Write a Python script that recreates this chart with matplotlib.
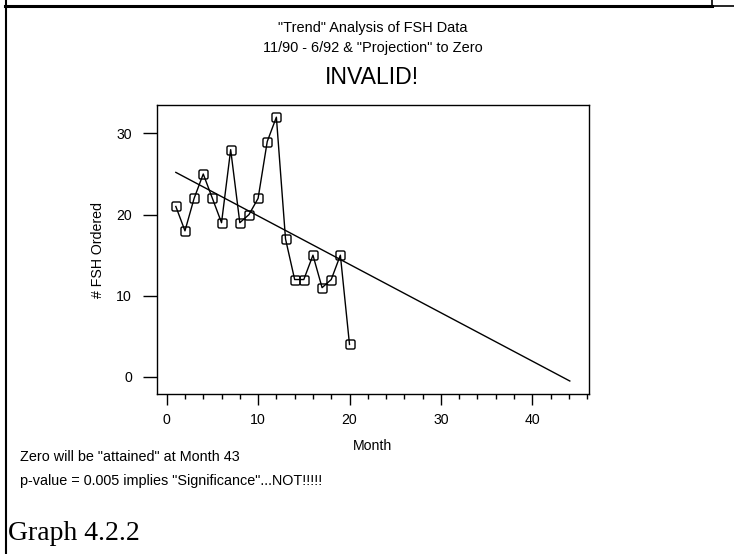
import matplotlib
matplotlib.use('Agg')
import matplotlib.pyplot as plt
from matplotlib import font_manager
from matplotlib.lines import Line2D
from matplotlib.path import Path
from matplotlib.ticker import MultipleLocator

# The scan uses a narrow Arial-like face; use Liberation Sans Narrow if present
names = {f.name for f in font_manager.fontManager.ttflist}
if 'Liberation Sans Narrow' in names:
    sans = 'Liberation Sans Narrow'
    k = 1.0
else:
    sans = 'Liberation Sans'
    k = 0.85
plt.rcParams['font.family'] = [sans, 'DejaVu Sans']

# Values
month = [1, 2, 3, 4, 5, 6, 7, 8, 9, 10, 11, 12, 13, 14, 15, 16, 17, 18, 19, 20]
fsh_ordered = [21, 18, 22, 25, 22, 19, 28, 19, 20, 22, 29, 32, 17, 12, 12, 15, 11, 12, 15, 4]

# Fitted "trend" line as drawn (start and end)
trend_month = [1, 44.1]
trend_value = [25.2, -0.5]

x_ticks = [0, 10, 20, 30, 40]
y_ticks = [0, 10, 20, 30]

W, H = 734, 554
fig = plt.figure(figsize=(W / 100, H / 100), dpi=100)


def fx(px):
    return px / W


def fy(py):
    return 1 - py / H


# rounded square marker
r = 0.35
verts = [(-1 + r, -1), (1 - r, -1), (1, -1), (1, -1 + r), (1, 1 - r), (1, 1),
         (1 - r, 1), (-1 + r, 1), (-1, 1), (-1, 1 - r), (-1, -1 + r), (-1, -1),
         (-1 + r, -1)]
codes = [Path.MOVETO, Path.LINETO, Path.CURVE3, Path.CURVE3, Path.LINETO, Path.CURVE3,
         Path.CURVE3, Path.LINETO, Path.CURVE3, Path.CURVE3, Path.LINETO, Path.CURVE3,
         Path.CURVE3]
round_sq = Path(verts, codes)

ax = fig.add_axes([fx(157), fy(394), fx(589) - fx(157), fy(105) - fy(394)])
ax.plot(month, fsh_ordered, color='black', lw=1.0, marker=round_sq, ms=6.5,
        mfc='none', mec='black', mew=1.0)
ax.plot(trend_month, trend_value, color='black', lw=1.0)

ax.set_xlim(-1.06, 46.2)
ax.set_ylim(-2.1, 33.5)
ax.set_xticks(x_ticks)
ax.set_yticks(y_ticks)
ax.xaxis.set_minor_locator(MultipleLocator(2))
ax.tick_params(axis='x', which='major', direction='out', length=8, width=1.0,
               pad=6, labelsize=12 * k)
ax.tick_params(axis='x', which='minor', direction='out', length=3.5, width=1.0)
ax.tick_params(axis='y', which='major', direction='out', length=10, width=1.0,
               pad=8, labelsize=12 * k)
for s in ax.spines.values():
    s.set_linewidth(1.0)

ax.set_xlabel('Month', fontsize=12 * k, labelpad=8)
ax.set_ylabel('# FSH Ordered', fontsize=12 * k, labelpad=8)

fig.text(fx(373), fy(28), '"Trend" Analysis of FSH Data', ha='center', va='center',
         fontsize=12.3 * k)
fig.text(fx(373), fy(48), '11/90 - 6/92 & "Projection" to Zero', ha='center',
         va='center', fontsize=12.3 * k)
fig.text(fx(372), fy(78), 'INVALID!', ha='center', va='center', fontsize=19.5 * k)

fig.text(fx(20), fy(457), 'Zero will be "attained" at Month 43', ha='left',
         va='center', fontsize=12.2 * k)
fig.text(fx(20), fy(481), 'p-value = 0.005 implies "Significance"...NOT!!!!!',
         ha='left', va='center', fontsize=12.2 * k)
fig.text(fx(8), fy(533), 'Graph 4.2.2', ha='left', va='center', fontsize=20,
         family='Liberation Serif')

# page frame lines of the scanned document
fig.add_artist(Line2D([fx(5.5), fx(5.5)], [fy(0), fy(H)], color='black', lw=1.5))
fig.add_artist(Line2D([fx(5), fx(712)], [fy(5.5), fy(5.5)], color='black', lw=2.2))
fig.add_artist(Line2D([fx(712), fx(712)], [fy(0), fy(5.5)], color='black', lw=1.2))
fig.add_artist(Line2D([fx(712), fx(W)], [fy(6), fy(6)], color='black', lw=1.2))

fig.savefig('out.png', dpi=100)
